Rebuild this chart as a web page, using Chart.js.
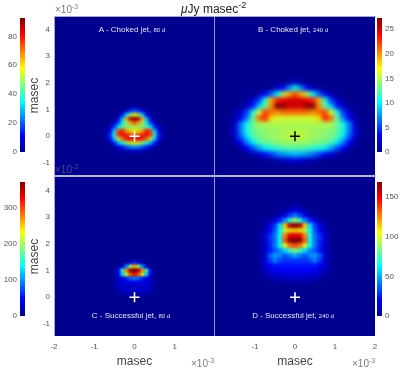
<!DOCTYPE html>
<html><head><meta charset="utf-8">
<script src="https://cdn.jsdelivr.net/npm/chart.js@4"></script>
<style>
html,body{margin:0;padding:0;background:#fff;width:415px;height:392px;overflow:hidden;font-family:"Liberation Sans",sans-serif}
body{filter:blur(.35px)}
canvas{position:absolute}
.t{position:absolute;white-space:nowrap;z-index:5;line-height:1}
.l{position:absolute;z-index:4}
.p{color:#e4e6f4;font-size:8px;transform:translate(-50%,-50%)}
.p small{font-size:6px}
.e{color:#7a7a7a;font-size:10px}
.e sup{font-size:7px;line-height:0}
</style></head><body>
<div class="t" style="left:181px;top:3px;font-size:12px;color:#222"><i>&mu;</i>Jy masec<sup style="font-size:9px;line-height:0">-2</sup></div>
<div class="t p" style="left:132px;top:30px">A - Choked jet, <small>80 d</small></div>
<div class="t p" style="left:293px;top:30px">B - Choked jet, <small>240 d</small></div>
<div class="t p" style="left:131px;top:316px">C - Successful jet, <small>80 d</small></div>
<div class="t p" style="left:293px;top:316px">D - Successful jet, <small>240 d</small></div>
<div class="t e" style="left:55px;top:5px">&times;10<sup>-3</sup></div>
<div class="t e" style="left:55px;top:165px;color:#4a4a8a">&times;10<sup>-3</sup></div>
<div class="t e" style="left:191px;top:359px">&times;10<sup>-3</sup></div>
<div class="t e" style="left:352px;top:359px">&times;10<sup>-3</sup></div>
<div class="l" style="left:54px;top:16px;width:322px;height:1px;background:#a8a8cc"></div>
<div class="l" style="left:54px;top:175px;width:322px;height:2px;background:#b4b4d4"></div>
<div class="l" style="left:214px;top:16px;width:1px;height:320px;background:#9c9cb8"></div>
<div class="l" style="left:54px;top:16px;width:1px;height:320px;background:#a8a8cc"></div>
<script>
const yTicks=[-1,0,1,2,3,4];
const xTicksC=[-2,-1,0,1];
const xTicksD=[-1,0,1,2];

const xsA=[-.7,-.6,-.5,-.4,-.3,-.2,-.1,0,.1,.2,.3,.4,.5,.6,.7];
const ysA=[1.1,.95,.8,.65,.5,.35,.2,.05,-.1,-.25,-.4,-.55];
const valsA=[
[0,0,0,0,0,0,2,3,2,0,0,0,0,0,0],
[0,0,0,0,2,8,16,20,16,8,2,0,0,0,0],
[0,0,0,2,12,32,50,58,50,32,12,2,0,0,0],
[0,0,1,8,30,64,86,92,86,64,30,8,1,0,0],
[0,1,6,18,36,50,64,72,64,50,36,18,6,1,0],
[1,5,16,34,44,48,50,52,50,48,44,34,16,5,1],
[2,12,32,74,78,66,60,58,60,66,78,74,32,12,2],
[4,16,40,76,80,78,74,72,74,78,80,76,40,16,4],
[2,12,30,52,70,78,80,80,80,78,70,52,30,12,2],
[0,4,14,28,38,48,54,56,54,48,38,28,14,4,0],
[0,0,3,8,14,20,24,26,24,20,14,8,3,0,0],
[0,0,0,1,3,4,5,5,5,4,3,1,0,0,0]];

const xsB=[-1.5,-1.35,-1.2,-1.05,-.9,-.75,-.6,-.45,-.3,-.15,0,.15,.3,.45,.6,.75,.9,1.05,1.2,1.35,1.5];
const ysB=[2.025,1.8,1.575,1.35,1.125,.9,.675,.45,.225,0,-.225,-.45,-.675,-.9];
const valsB=[
[0,0,0,0,0,0,0,0,0,.5,1.5,.5,0,0,0,0,0,0,0,0,0],
[0,0,0,0,0,0,.5,1.5,3.5,7,11,7,3.5,1.5,.5,0,0,0,0,0,0],
[0,0,0,0,1,3,6,10,15,19,22,19,15,10,6,3,1,0,0,0,0],
[0,0,.5,2,5,11,19,23,24,25,25,25,24,23,19,11,5,2,.5,0,0],
[0,.5,1.5,4,9,13,20,27,27,25,25,25,27,27,20,13,9,4,1.5,.5,0],
[.5,2,5,11,16,22,21,20,21,21,21,21,21,20,21,22,16,11,5,2,.5],
[1,3,7,13,21,23,18,16,16,16,16,16,16,16,18,23,21,13,7,3,1],
[2,7,11,13,15,15,15,15,15,15,15,15,15,15,15,15,15,13,11,7,2],
[2.5,7,11,13,14,14,14.5,14.5,15,15,15,15,15,14.5,14.5,14,14,13,11,7,2.5],
[2,6,10,12.5,13.5,14,14.5,14.5,15,15.5,15.5,15.5,15,14.5,14.5,14,13.5,12.5,10,6,2],
[1,3.5,7,10,12.5,13,13.5,14,14.5,14.5,14.5,14.5,14.5,14,13.5,13,12.5,10,7,3.5,1],
[0,1,3,5.5,8,10,11,11.5,12,12.5,12.5,12.5,12,11.5,11,10,8,5.5,3,1,0],
[0,0,0,1,2,3.5,5,6.5,7.5,8,8.5,8,7.5,6.5,5,3.5,2,1,0,0,0],
[0,0,0,0,0,0,.5,1,1.5,2,2.5,2,1.5,1,.5,0,0,0,0,0,0]];

const xsC=[-.6,-.5,-.4,-.3,-.2,-.1,0,.1,.2,.3,.4,.5,.6];
const ysC=[1.3,1.15,1,.85,.7,.55,.4,.25,.1];
const valsC=[
[0,0,0,0,10,30,60,30,10,0,0,0,0],
[0,0,0,30,100,200,260,200,100,30,0,0,0],
[0,5,50,160,270,350,372,350,270,160,50,5,0],
[0,5,40,130,220,290,320,290,220,130,40,5,0],
[0,5,20,35,60,85,95,85,60,35,20,5,0],
[0,12,25,35,40,40,40,40,40,35,25,12,0],
[0,10,22,25,25,25,25,25,25,25,22,10,0],
[0,5,15,22,28,30,30,30,28,22,15,5,0],
[0,0,4,8,10,12,12,12,10,8,4,0,0]];

const xsD=[-.875,-.75,-.625,-.5,-.375,-.25,-.125,0,.125,.25,.375,.5,.625,.75,.875];
const ysD=[3.4375,3.25,3.0625,2.875,2.6875,2.5,2.3125,2.125,1.9375,1.75,1.5625,1.375,1.1875,1,.8125,.625,.4375];
const valsD=[
[0,0,0,0,0,1,3,6,3,1,0,0,0,0,0],
[0,0,0,0,1,5,12,18,12,5,1,0,0,0,0],
[0,0,0,2,8,18,32,42,32,18,8,2,0,0,0],
[0,2,6,16,28,45,72,90,72,45,28,16,6,2,0],
[1,6,16,32,60,115,160,170,160,115,60,32,16,6,1],
[2,8,20,36,64,95,112,115,112,95,64,36,20,8,2],
[3,12,28,42,68,125,150,150,150,125,68,42,28,12,3],
[4,14,28,40,66,132,165,170,165,132,66,40,28,14,4],
[3,10,26,42,66,100,128,135,128,100,66,42,26,10,3],
[3,10,24,35,45,58,76,85,76,58,45,35,24,10,3],
[3,12,36,48,44,36,42,50,42,36,44,48,36,12,3],
[4,14,30,42,34,30,30,30,30,30,34,42,30,14,4],
[4,12,20,24,24,24,24,25,24,24,24,24,20,12,4],
[3,8,14,18,20,20,20,20,20,20,20,18,14,8,3],
[1,4,8,12,13,14,14,14,14,14,13,12,8,4,1],
[0,1,2,4,5,6,6,6,6,6,5,4,2,1,0],
[0,0,0,0,1,1,1,1,1,1,1,0,0,0,0]];

const maxA=92.7, maxB=27.3, maxC=372, maxD=169;
const cbTicksA=[0,20,40,60,80], cbTicksB=[0,5,10,15,20,25], cbTicksC=[0,100,200,300], cbTicksD=[0,50,100,150];

const stops=[[0,0,0,143],[.125,0,0,255],[.375,0,255,255],[.625,255,255,0],[.875,255,0,0],[1,128,0,0]];
function jet(f){
  f=Math.max(0,Math.min(1,f));
  for(let i=1;i<stops.length;i++){
    if(f<=stops[i][0]){
      const a=stops[i-1],b=stops[i],k=(f-a[0])/(b[0]-a[0]);
      return `rgb(${Math.round(a[1]+(b[1]-a[1])*k)},${Math.round(a[2]+(b[2]-a[2])*k)},${Math.round(a[3]+(b[3]-a[3])*k)})`;
    }
  }
  return 'rgb(128,0,0)';
}
const tc='#555';
function zero(s){s.paddingTop=0;s.paddingBottom=0;s.paddingLeft=0;s.paddingRight=0;}
const smooth={
  id:'smooth',
  beforeDatasetsDraw(c){const a=c.chartArea;c.ctx.save();c.ctx.fillStyle=jet(0);c.ctx.fillRect(a.left,a.top,a.width,a.height);c.ctx.restore();},
  afterDatasetDraw(c,args,o){
    if(args.index!==1)return;
    const a=c.chartArea,off=document.createElement('canvas');
    off.width=a.width;off.height=a.height;
    off.getContext('2d').drawImage(c.canvas,a.left,a.top,a.width,a.height,0,0,a.width,a.height);
    const x=c.ctx;x.save();x.beginPath();x.rect(a.left,a.top,a.width,a.height);x.clip();
    x.filter=`blur(${o.blur}px)`;x.drawImage(off,a.left,a.top);x.restore();
  }
};
function mk(left,top,w,h){const cv=document.createElement('canvas');cv.style.left=left+'px';cv.style.top=top+'px';cv.style.width=w+'px';cv.style.height=h+'px';cv.width=w;cv.height=h;document.body.appendChild(cv);return cv;}
function panel(o){
  const pts=[];
  o.vals.forEach((row,j)=>row.forEach((v,i)=>pts.push({x:o.xs[i],y:o.ys[j],v})));
  const cv=mk(o.left,o.top,o.w,o.h);
  new Chart(cv,{type:'scatter',
    data:{datasets:[
      {label:'origin',data:[{x:0,y:0}],pointStyle:'cross',pointRadius:5,borderColor:o.cross,borderWidth:1.6,backgroundColor:o.cross},
      {label:'intensity',data:pts,pointStyle:'rect',pointRadius:o.cell/Math.SQRT2,borderWidth:0,
       backgroundColor:c=>jet(c.raw?c.raw.v/o.max:0)}
    ]},
    options:{responsive:false,animation:false,events:[],
      layout:{autoPadding:false,padding:{left:0,right:o.padR||0,top:0,bottom:0}},
      plugins:{legend:{display:false},tooltip:{enabled:false},smooth:{blur:o.blur}},
      scales:{
        x:{type:'linear',min:-2,max:2,display:!!o.xt,grid:{display:false,drawTicks:false},border:{display:false},
          afterBuildTicks:s=>{if(o.xt)s.ticks=o.xt.map(value=>({value}));},
          afterFit:s=>{zero(s);if(o.xt)s.height=34;},
          ticks:{autoSkip:false,maxRotation:0,padding:6,color:tc,font:{size:8,family:'Liberation Sans'}},
          title:{display:!!o.xt,text:'masec',color:'#444',font:{size:12,family:'Liberation Sans'},padding:{top:0,bottom:1}}},
        y:{type:'linear',min:-1.45,max:4.5,display:!!o.yAxis,grid:{display:false,drawTicks:false},border:{display:false},
          afterBuildTicks:s=>{if(o.yAxis)s.ticks=yTicks.map(value=>({value}));},
          afterFit:s=>{zero(s);if(o.yAxis)s.width=28;},
          ticks:{autoSkip:false,padding:4,color:tc,font:{size:8,family:'Liberation Sans'}},
          title:{display:!!o.yAxis,text:'masec',color:'#444',font:{size:12,family:'Liberation Sans'},padding:{top:1,bottom:1}}}
      }},
    plugins:[smooth]});
}
function cbar(o){
  const pad=6,bw=5,lab=o.right?24:20;
  const cv=mk(o.right?o.x:o.x-lab,o.top-pad,bw+lab,o.h+2*pad);
  new Chart(cv,{type:'bar',
    data:{labels:[''],datasets:[{data:[o.max],barPercentage:1,categoryPercentage:1,
      backgroundColor:c=>{const a=c.chart.chartArea;if(!a)return jet(.5);
        const g=c.chart.ctx.createLinearGradient(0,a.bottom,0,a.top);stops.forEach(s=>g.addColorStop(s[0],jet(s[0])));return g;}}]},
    options:{responsive:false,animation:false,events:[],
      layout:{autoPadding:false,padding:{top:pad,bottom:pad}},
      plugins:{legend:{display:false},tooltip:{enabled:false}},
      scales:{x:{display:false},
        y:{position:o.right?'right':'left',min:0,max:o.max,grid:{display:false,drawTicks:false},border:{display:false},
          afterBuildTicks:s=>{s.ticks=o.ticks.map(value=>({value}));},
          afterFit:s=>{zero(s);s.width=lab;},
          ticks:{autoSkip:false,padding:3,color:tc,font:{size:8,family:'Liberation Sans'}}}}
    }});
}
panel({left:26,top:16,w:189,h:159,xs:xsA,ys:ysA,vals:valsA,max:maxA,cell:4,blur:1.4,cross:'#fff',yAxis:true});
panel({left:215,top:16,w:170,h:159,padR:10,xs:xsB,ys:ysB,vals:valsB,max:maxB,cell:6,blur:2,cross:'#111'});
panel({left:26,top:177,w:189,h:193,xs:xsC,ys:ysC,vals:valsC,max:maxC,cell:4,blur:1.3,cross:'#fff',yAxis:true,xt:xTicksC});
panel({left:215,top:177,w:170,h:193,padR:10,xs:xsD,ys:ysD,vals:valsD,max:maxD,cell:5,blur:1.8,cross:'#fff',xt:xTicksD});
cbar({x:20,top:18,h:134,max:maxA,ticks:cbTicksA});
cbar({x:377,top:18,h:134,max:maxB,ticks:cbTicksB,right:true});
cbar({x:20,top:182,h:134,max:maxC,ticks:cbTicksC});
cbar({x:377,top:182,h:134,max:maxD,ticks:cbTicksD,right:true});
</script>
</body></html>
